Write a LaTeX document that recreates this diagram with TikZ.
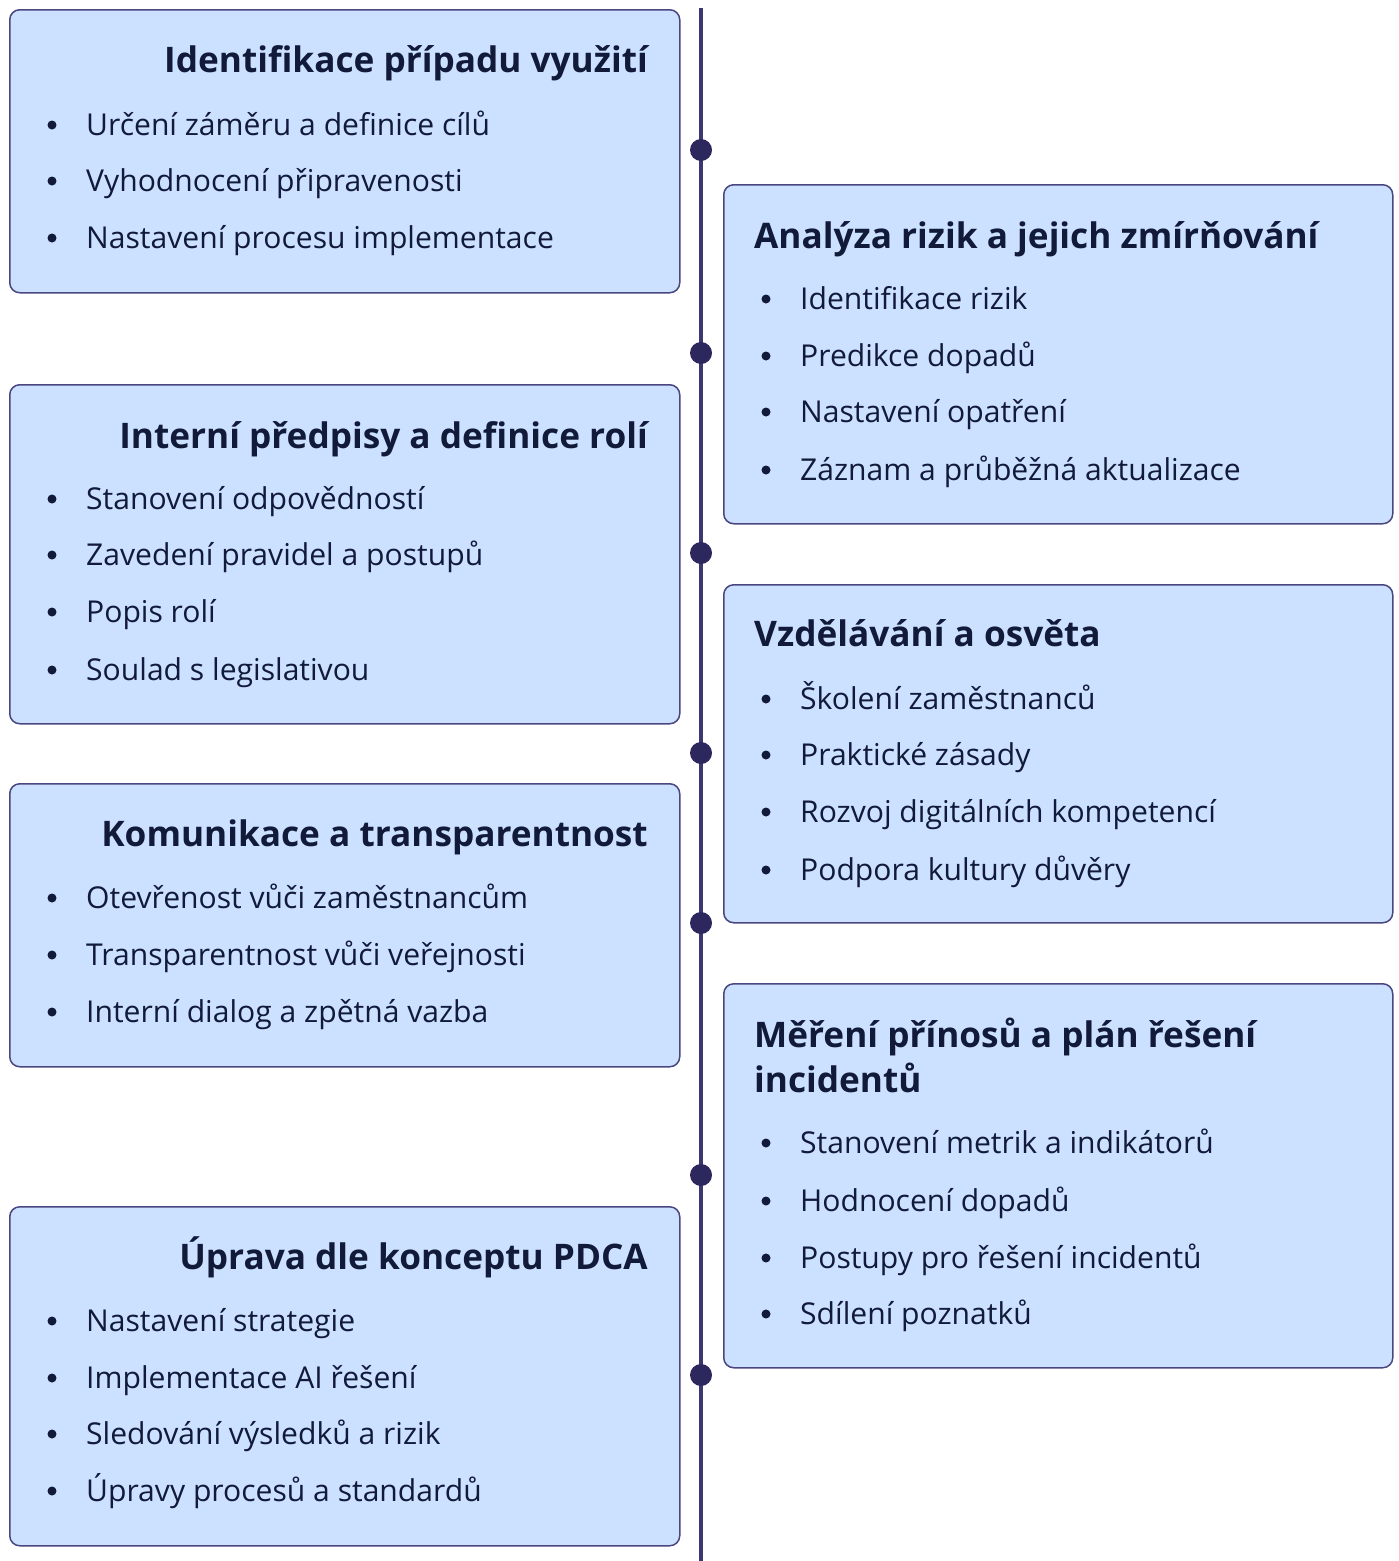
\documentclass[tikz,border=0pt]{standalone}
\usepackage{fontspec}
\setmainfont{Open Sans}
\definecolor{boxfill}{HTML}{CCE0FF}
\definecolor{boxline}{HTML}{4A4780}
\definecolor{axisc}{HTML}{3B3770}
\definecolor{dotc}{HTML}{2C285E}
\definecolor{ink}{HTML}{111A38}
\begin{document}
\begin{tikzpicture}[x=1pt,y=-1pt,
  card/.style={draw=boxline, line width=1.5pt, fill=boxfill, rounded corners=10pt, inner sep=0pt, anchor=north west},
  ttl/.style={font=\fontsize{35.2}{45}\selectfont\bfseries, text=ink, inner sep=0pt},
  ttlL/.style={ttl, anchor=base east},
  ttlR/.style={ttl, anchor=base west, align=left},
  itm/.style={font=\fontsize{30.1}{35}\selectfont, text=ink, inner sep=0pt, anchor=base west},
  bul/.style={circle, fill=ink, minimum size=9pt, inner sep=0pt},
  tdot/.style={circle, fill=dotc, minimum size=22pt, inner sep=0pt},
  axisline/.style={draw=axisc, line width=4pt}
]
\useasboundingbox (0,0) rectangle (1399,1561);
% timeline
\coordinate (top) at (701,8);
\coordinate (bot) at (701,1561);
\draw[axisline] (top) -- (bot);
\foreach \n/\y in {1/150,2/353,3/553,4/753,5/923,6/1175,7/1375}
  \node[tdot] (d\n) at (701,\y) {};
% boxes
\node[card, minimum width=670pt, minimum height=283pt] (b1) at (9,9) {};
\node[card, minimum width=669pt, minimum height=339pt] (b2) at (723,184) {};
\node[card, minimum width=670pt, minimum height=339pt] (b3) at (9,384) {};
\node[card, minimum width=669pt, minimum height=338pt] (b4) at (723,584) {};
\node[card, minimum width=670pt, minimum height=283pt] (b5) at (9,783) {};
\node[card, minimum width=669pt, minimum height=384pt] (b6) at (723,983) {};
\node[card, minimum width=670pt, minimum height=339pt] (b7) at (9,1206) {};
% box 1
\node[ttlL] (t1) at (648,72) {Identifikace případu využití};
\foreach \i/\y/\s in {1/135/{Určení záměru a definice cílů},2/191/{Vyhodnocení připravenosti},3/248/{Nastavení procesu implementace}}{
  \node[bul] (b1u\i) at (52,\y-10) {};
  \node[itm] (b1i\i) at (86,\y) {\s};}
% box 2
\node[ttlR] (t2) at (754,248) {Analýza rizik a jejich zmírňování};
\foreach \i/\y/\s in {1/309/{Identifikace rizik},2/366/{Predikce dopadů},3/422/{Nastavení opatření},4/480/{Záznam a průběžná aktualizace}}{
  \node[bul] (b2u\i) at (766,\y-10) {};
  \node[itm] (b2i\i) at (800,\y) {\s};}
% box 3
\node[ttlL] (t3) at (648,448) {Interní předpisy a definice rolí};
\foreach \i/\y/\s in {1/509/{Stanovení odpovědností},2/565/{Zavedení pravidel a postupů},3/622/{Popis rolí},4/680/{Soulad s legislativou}}{
  \node[bul] (b3u\i) at (52,\y-10) {};
  \node[itm] (b3i\i) at (86,\y) {\s};}
% box 4
\node[ttlR] (t4) at (754,646) {Vzdělávání a osvěta};
\foreach \i/\y/\s in {1/709/{Školení zaměstnanců},2/765/{Praktické zásady},3/822/{Rozvoj digitálních kompetencí},4/880/{Podpora kultury důvěry}}{
  \node[bul] (b4u\i) at (766,\y-10) {};
  \node[itm] (b4i\i) at (800,\y) {\s};}
% box 5
\node[ttlL] (t5) at (648,846) {Komunikace a transparentnost};
\foreach \i/\y/\s in {1/908/{Otevřenost vůči zaměstnancům},2/965/{Transparentnost vůči veřejnosti},3/1022/{Interní dialog a zpětná vazba}}{
  \node[bul] (b5u\i) at (52,\y-10) {};
  \node[itm] (b5i\i) at (86,\y) {\s};}
% box 6
\node[ttlR] (t6) at (754,1092) {Měření přínosů a plán řešení\\incidentů};
\foreach \i/\y/\s in {1/1153/{Stanovení metrik a indikátorů},2/1211/{Hodnocení dopadů},3/1268/{Postupy pro řešení incidentů},4/1324/{Sdílení poznatků}}{
  \node[bul] (b6u\i) at (766,\y-10) {};
  \node[itm] (b6i\i) at (800,\y) {\s};}
% box 7
\node[ttlL] (t7) at (648,1269) {Úprava dle konceptu PDCA};
\foreach \i/\y/\s in {1/1331/{Nastavení strategie},2/1388/{Implementace AI řešení},3/1444/{Sledování výsledků a rizik},4/1501/{Úpravy procesů a standardů}}{
  \node[bul] (b7u\i) at (52,\y-10) {};
  \node[itm] (b7i\i) at (86,\y) {\s};}
\end{tikzpicture}
\end{document}
